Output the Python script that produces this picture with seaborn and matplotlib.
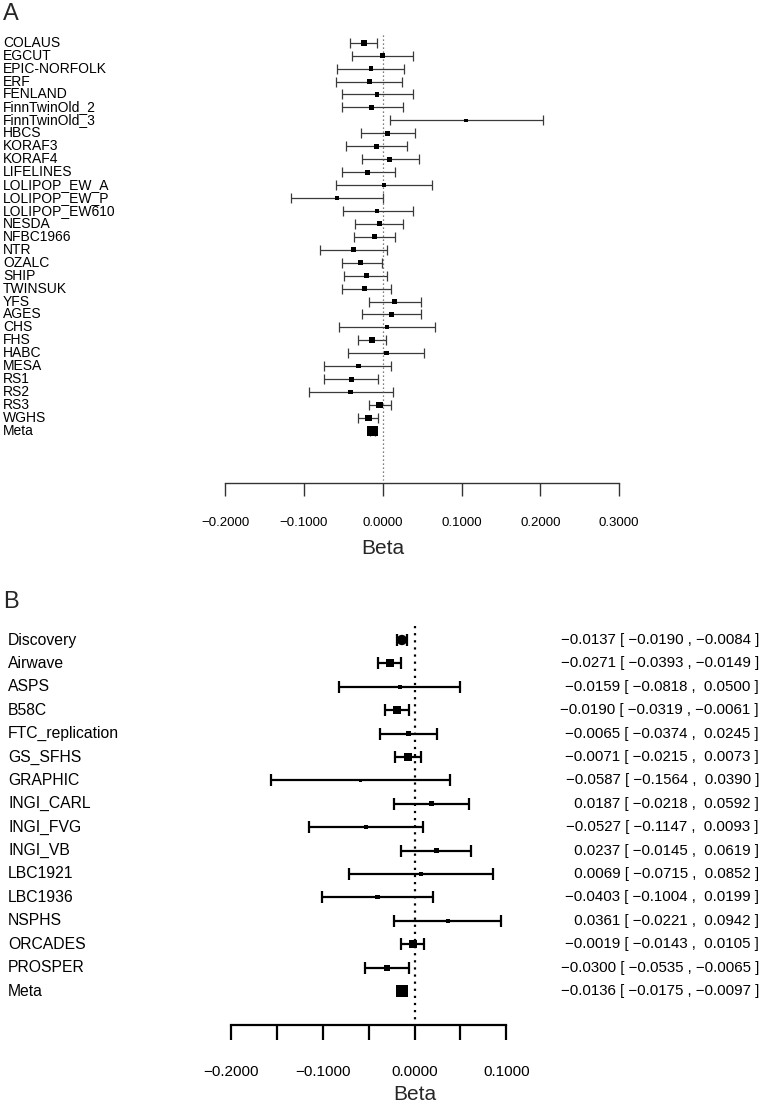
import numpy as np
import pandas as pd
import matplotlib
matplotlib.use("Agg")
import matplotlib.pyplot as plt
import matplotlib.transforms as mtransforms
from matplotlib.ticker import FuncFormatter
import seaborn as sns

# ---- panel A data ----
studies_a = ["COLAUS", "EGCUT", "EPIC-NORFOLK", "ERF", "FENLAND", "FinnTwinOld_2",
             "FinnTwinOld_3", "HBCS", "KORAF3", "KORAF4", "LIFELINES", "LOLIPOP_EW_A",
             "LOLIPOP_EW_P", "LOLIPOP_EW610", "NESDA", "NFBC1966", "NTR", "OZALC",
             "SHIP", "TWINSUK", "YFS", "AGES", "CHS", "FHS", "HABC", "MESA", "RS1",
             "RS2", "RS3", "WGHS", "Meta"]
beta_a = [-0.024, 0.000, -0.015, -0.017, -0.007, -0.014, 0.106, 0.006, -0.008, 0.009,
          -0.019, 0.002, -0.058, -0.007, -0.004, -0.010, -0.037, -0.028, -0.021, -0.023,
          0.015, 0.011, 0.006, -0.014, 0.005, -0.031, -0.040, -0.041, -0.004, -0.018,
          -0.013]
lo_a = [-0.041, -0.039, -0.058, -0.059, -0.052, -0.052, 0.009, -0.028, -0.046, -0.026,
        -0.052, -0.059, -0.116, -0.051, -0.035, -0.037, -0.079, -0.052, -0.049, -0.052,
        -0.018, -0.026, -0.056, -0.031, -0.044, -0.074, -0.074, -0.094, -0.018, -0.031,
        -0.016]
hi_a = [-0.007, 0.039, 0.027, 0.025, 0.039, 0.026, 0.204, 0.041, 0.031, 0.046,
        0.015, 0.063, 0.000, 0.038, 0.026, 0.016, 0.006, -0.001, 0.006, 0.010,
        0.048, 0.049, 0.067, 0.004, 0.053, 0.010, -0.006, 0.013, 0.010, -0.006,
        -0.010]
ticks_a = [-0.2, -0.1, 0.0, 0.1, 0.2, 0.3]

# ---- panel B data ----
studies_b = ["Discovery", "Airwave", "ASPS", "B58C", "FTC_replication", "GS_SFHS",
             "GRAPHIC", "INGI_CARL", "INGI_FVG", "INGI_VB", "LBC1921", "LBC1936",
             "NSPHS", "ORCADES", "PROSPER", "Meta"]
beta_b = [-0.0137, -0.0271, -0.0159, -0.0190, -0.0065, -0.0071, -0.0587, 0.0187,
          -0.0527, 0.0237, 0.0069, -0.0403, 0.0361, -0.0019, -0.0300, -0.0136]
lo_b = [-0.0190, -0.0393, -0.0818, -0.0319, -0.0374, -0.0215, -0.1564, -0.0218,
        -0.1147, -0.0145, -0.0715, -0.1004, -0.0221, -0.0143, -0.0535, -0.0175]
hi_b = [-0.0084, -0.0149, 0.0500, -0.0061, 0.0245, 0.0073, 0.0390, 0.0592,
        0.0093, 0.0619, 0.0852, 0.0199, 0.0942, 0.0105, -0.0065, -0.0097]
ticks_b = [-0.2, -0.15, -0.1, -0.05, 0.0, 0.05, 0.1]
ticklabels_b = ["-0.2000", "", "-0.1000", "", "0.0000", "", "0.1000"]

sns.set_theme(style="white")
plt.rcParams["font.family"] = ["Liberation Sans", "DejaVu Sans"]

W, H = 762, 1105
fig = plt.figure(figsize=(W / 100, H / 100), dpi=100)


def rect(left, top, right, bottom):
    return [left / W, 1 - bottom / H, (right - left) / W, (bottom - top) / H]


def fmt(v):
    s = f"{v:.4f}"
    return s.replace("-", "\u2212") if s.startswith("-") else " " + s


def forest(ax, names, beta, lo, hi, zero_px, scale, row0, step, top, bottom,
           sizes, lw, capsize, ecolor):
    df = pd.DataFrame({"study": names, "beta": beta, "lo": lo, "hi": hi})
    df["row"] = np.arange(len(df))
    # box area grows with precision of the estimate
    df["prec"] = (1 / (df["hi"] - df["lo"])) ** 0.6
    df["kind"] = ["disc" if n == "Discovery" else "study" for n in names]

    ax.set_xlim(-zero_px / scale, (W - zero_px) / scale)
    ax.set_ylim((bottom - row0) / step, (top - row0) / step)

    ax.errorbar(df["beta"], df["row"], xerr=[df["beta"] - df["lo"], df["hi"] - df["beta"]],
                fmt="none", ecolor=ecolor, elinewidth=lw, capsize=capsize, capthick=lw,
                zorder=2)
    sns.scatterplot(data=df, x="beta", y="row", size="prec", sizes=sizes,
                    style="kind", markers={"study": "s", "disc": "o"}, color="black",
                    linewidth=0, legend=False, ax=ax, zorder=3)

    tr = mtransforms.blended_transform_factory(fig.transFigure, ax.transData)
    return df, tr


# ---------------- panel A ----------------
axA = fig.add_axes(rect(0, 30, W, 483))
dfA, trA = forest(axA, studies_a, beta_a, lo_a, hi_a, zero_px=382.7, scale=788,
                  row0=42.7, step=12.94, top=30, bottom=483,
                  sizes=(6.3, 54), lw=0.9, capsize=3.3, ecolor="#3a3a3a")
axA.vlines(0, -0.6, 33.8, colors="#555555", linestyles=(0, (1, 2.2)), linewidth=0.9)
for name, r in zip(dfA["study"], dfA["row"]):
    axA.text(3 / W, r, name, transform=trA, ha="left", va="center", fontsize=10,
             color="black")
axA.set_xticks(ticks_a)
axA.xaxis.set_major_formatter(FuncFormatter(lambda v, _: f"{v:.4f}".replace("-", "\u2212")))
axA.tick_params(axis="x", direction="out", length=9.4, width=1.0, pad=15,
                labelsize=9.5, colors="#333333", labelcolor="black", bottom=True)
axA.set_yticks([])
for s in ["left", "right", "top"]:
    axA.spines[s].set_visible(False)
axA.spines["bottom"].set_bounds(ticks_a[0], ticks_a[-1])
axA.spines["bottom"].set_color("#333333")
axA.spines["bottom"].set_linewidth(1.0)
axA.set_xlabel("")
axA.set_ylabel("")
fig.text(382.7 / W, 1 - 548 / H, "Beta", ha="center", va="center", fontsize=15)
fig.text(3 / W, 1 - 14 / H, "A", ha="left", va="center", fontsize=17)

# ---------------- panel B ----------------
axB = fig.add_axes(rect(0, 618, W, 1025))
dfB, trB = forest(axB, studies_b, beta_b, lo_b, hi_b, zero_px=414.5, scale=918,
                  row0=640, step=23.4, top=618, bottom=1025,
                  sizes=(5.5, 68), lw=1.6, capsize=4.6, ecolor="black")
axB.vlines(0, -0.6, 16.4, colors="black", linestyles=(0, (1, 2.2)), linewidth=1.6)
for name, r, b, l, h in zip(dfB["study"], dfB["row"], dfB["beta"], dfB["lo"], dfB["hi"]):
    axB.text(8 / W, r, name, transform=trB, ha="left", va="center", fontsize=11.3,
             color="black")
    axB.text(759 / W, r, f"{fmt(b)} [ {fmt(l)} , {fmt(h)} ]", transform=trB,
             ha="right", va="center", fontsize=10.8, color="black")
axB.set_xticks(ticks_b)
axB.set_xticklabels([t.replace("-", "\u2212") for t in ticklabels_b])
axB.tick_params(axis="x", direction="out", length=10.8, width=1.6, pad=18,
                labelsize=11, colors="black", labelcolor="black", bottom=True)
axB.set_yticks([])
for s in ["left", "right", "top"]:
    axB.spines[s].set_visible(False)
axB.spines["bottom"].set_bounds(ticks_b[0], ticks_b[-1])
axB.spines["bottom"].set_color("black")
axB.spines["bottom"].set_linewidth(1.6)
axB.set_xlabel("")
axB.set_ylabel("")
fig.text(414.5 / W, 1 - 1095 / H, "Beta", ha="center", va="center", fontsize=15)
fig.text(3 / W, 1 - 602 / H, "B", ha="left", va="center", fontsize=17)

fig.savefig("out.png", dpi=100)
